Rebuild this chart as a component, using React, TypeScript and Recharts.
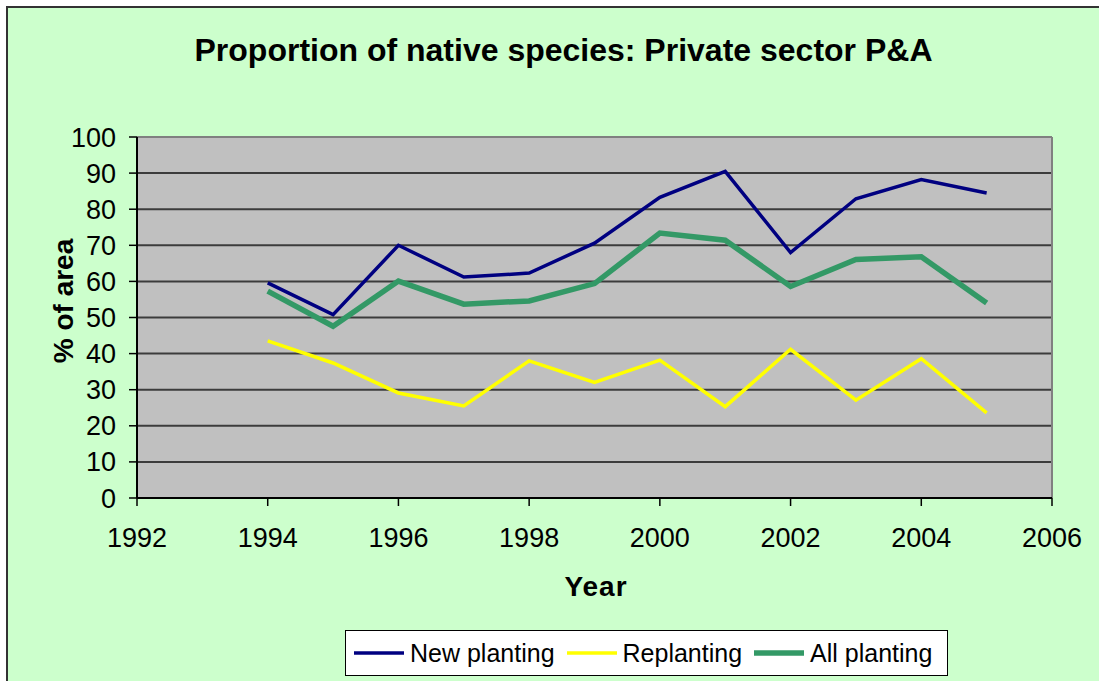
import React from "react";
import {
  CartesianGrid,
  Legend,
  Line,
  LineChart,
  ReferenceLine,
  XAxis,
  YAxis,
} from "recharts";

const years = [1994, 1995, 1996, 1997, 1998, 1999, 2000, 2001, 2002, 2003, 2004, 2005];
const newPlanting = [59.6, 50.8, 70.0, 61.2, 62.3, 70.6, 83.3, 90.5, 68.0, 82.9, 88.2, 84.5];
const replanting = [43.5, 37.4, 29.1, 25.5, 38.0, 32.0, 38.2, 25.3, 41.2, 27.1, 38.6, 23.6];
const allPlanting = [57.3, 47.6, 60.1, 53.7, 54.6, 59.4, 73.4, 71.4, 58.6, 66.1, 66.8, 54.0];

const xTicks = [1992, 1994, 1996, 1998, 2000, 2002, 2004, 2006];
const yTicks = [0, 10, 20, 30, 40, 50, 60, 70, 80, 90, 100];

const series = [
  { key: "newPlanting", name: "New planting", color: "#000080", width: 3.5 },
  { key: "replanting", name: "Replanting", color: "#FFFF00", width: 3.5 },
  { key: "allPlanting", name: "All planting", color: "#339966", width: 5.5 },
];

const rows = years.map((year, i) => ({
  year,
  newPlanting: newPlanting[i],
  replanting: replanting[i],
  allPlanting: allPlanting[i],
}));

const FONT = "'Liberation Sans', Arial, sans-serif";

function renderLegend(props: any) {
  // keep the legend in series order (recharts sorts it by name otherwise)
  const payload = [...(props.payload ?? [])].sort(
    (a: any, b: any) =>
      series.findIndex((s) => s.key === a.dataKey) - series.findIndex((s) => s.key === b.dataKey)
  );
  return (
    <div
      style={{
        display: "flex",
        alignItems: "center",
        height: 46,
        boxSizing: "border-box",
        border: "1.5px solid #000",
        background: "#fff",
        paddingLeft: 8,
        fontFamily: FONT,
      }}
    >
      {payload.map((entry: any) => {
        const s = series.find((d) => d.key === entry.dataKey);
        return (
          <div key={entry.value} style={{ display: "flex", alignItems: "center", marginRight: 12 }}>
            <svg width={50} height={10}>
              <line x1={0} x2={50} y1={5} y2={5} stroke={entry.color} strokeWidth={s ? s.width : 3} />
            </svg>
            <span style={{ marginLeft: 6, fontSize: 25, color: "#000" }}>{entry.value}</span>
          </div>
        );
      })}
    </div>
  );
}

export default function App() {
  return (
    <div
      style={{
        position: "absolute",
        left: 0,
        top: 0,
        width: 1099,
        height: 681,
        background: "#fff",
        overflow: "hidden",
        fontFamily: FONT,
      }}
    >
      <div
        style={{
          position: "absolute",
          left: 6,
          top: 6,
          width: 1110,
          height: 690,
          border: "2px solid #333",
          background: "#CCFFCC",
        }}
      />
      <div
        style={{
          position: "absolute",
          left: 0,
          top: 32,
          width: 1127,
          textAlign: "center",
          fontSize: 32,
          lineHeight: "36px",
          fontWeight: "bold",
          color: "#000",
        }}
      >
        Proportion of native species: Private sector P&amp;A
      </div>
      <div
        style={{
          position: "absolute",
          left: 64 - 100,
          top: 301 - 16,
          width: 200,
          height: 32,
          lineHeight: "32px",
          textAlign: "center",
          fontSize: 28,
          fontWeight: "bold",
          transform: "rotate(-90deg)",
          color: "#000",
        }}
      >
        % of area
      </div>
      <div
        style={{
          position: "absolute",
          left: 496,
          top: 571,
          width: 200,
          lineHeight: "32px",
          textAlign: "center",
          fontSize: 28,
          fontWeight: "bold",
          letterSpacing: 1,
          color: "#000",
        }}
      >
        Year
      </div>
      <div style={{ position: "absolute", left: 0, top: 0 }}>
        <LineChart
          width={1099}
          height={681}
          data={rows}
          margin={{ top: 137, right: 47, bottom: 123, left: 0 }}
        >
          <CartesianGrid
            vertical={false}
            fill="#C0C0C0"
            fillOpacity={1}
            stroke="#3c3c3c"
            strokeWidth={2}
          />
          <ReferenceLine y={100} stroke="#808080" strokeWidth={2} />
          <ReferenceLine x={2006} stroke="#808080" strokeWidth={2} />
          <XAxis
            dataKey="year"
            type="number"
            domain={[1992, 2006]}
            ticks={xTicks}
            interval={0}
            height={60}
            tickSize={8}
            tickMargin={22}
            axisLine={{ stroke: "#000", strokeWidth: 2 }}
            tickLine={{ stroke: "#000", strokeWidth: 1.5 }}
            tick={{ fill: "#000", fontSize: 27, fontFamily: FONT }}
          />
          <YAxis
            type="number"
            domain={[0, 100]}
            ticks={yTicks}
            interval={0}
            width={137}
            tickSize={8}
            tickMargin={13}
            axisLine={{ stroke: "#000", strokeWidth: 2 }}
            tickLine={{ stroke: "#000", strokeWidth: 1.5 }}
            tick={{ fill: "#000", fontSize: 27, fontFamily: FONT }}
          />
          {series.map((s) => (
            <Line
              key={s.key}
              type="linear"
              dataKey={s.key}
              name={s.name}
              stroke={s.color}
              strokeWidth={s.width}
              dot={false}
              activeDot={false}
              isAnimationActive={false}
            />
          ))}
          <Legend
            layout="horizontal"
            verticalAlign="middle"
            align="center"
            content={renderLegend}
            wrapperStyle={{ left: 345, top: 630, width: 603, height: 46, bottom: "auto", right: "auto" }}
          />
        </LineChart>
      </div>
    </div>
  );
}
